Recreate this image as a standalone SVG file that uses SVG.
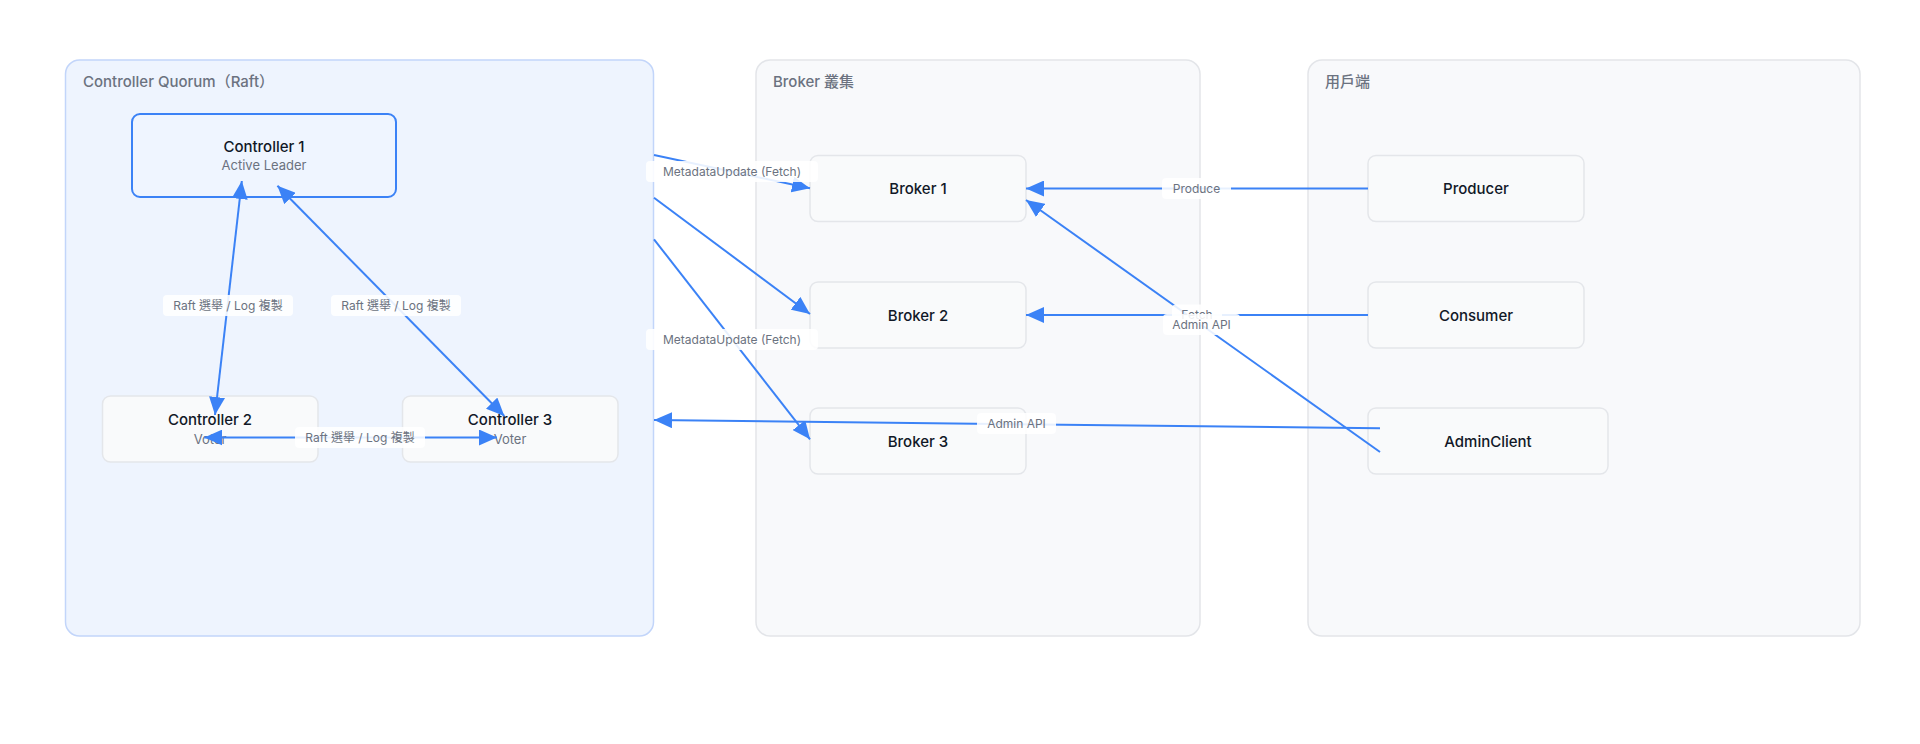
<svg xmlns="http://www.w3.org/2000/svg" width="1920" height="744" viewBox="0 0 1920 744">
  <defs>
    <style>
      text { font-family: Inter, "Noto Sans CJK TC", sans-serif; }
      .grp { stroke-width: 1.5; }
      .grp-blue { fill: #eef4fe; stroke: #c2d5fa; }
      .grp-gray { fill: #f8f9fb; stroke: #e3e5e9; }
      .grp-title { font-size: 15px; font-weight: 500; fill: #6b7280; }
      .node { fill: #f9fafb; stroke: #e4e6ea; stroke-width: 1.5; }
      .node-active { fill: #eff5ff; stroke: #3b82f6; stroke-width: 2; }
      .title { font-size: 15px; font-weight: 500; fill: #111827; text-anchor: middle; }
      .sub { font-size: 13px; fill: #6b7280; text-anchor: middle; }
      .edge { stroke: #3b82f6; stroke-width: 2; fill: none; }
      .lbl-bg { fill: #ffffff; fill-opacity: 0.88; }
      .lbl { font-size: 12px; fill: #6b7280; text-anchor: middle; }
    </style>
    <marker id="arr" viewBox="0 0 18 16" markerUnits="userSpaceOnUse" markerWidth="18" markerHeight="16" refX="18" refY="8" orient="auto-start-reverse">
      <path d="M0,0 L18,8 L0,16 z" fill="#3b82f6"/>
    </marker>
  </defs>
  <rect width="1920" height="744" fill="#ffffff"/>

  <!-- groups -->
  <g id="group-controller-quorum">
    <rect class="grp grp-blue" x="65.5" y="60" width="588" height="576" rx="14"/>
    <text class="grp-title" x="83" y="86.5">Controller Quorum（Raft）</text>
  </g>
  <g id="group-broker">
    <rect class="grp grp-gray" x="756" y="60" width="444" height="576" rx="14"/>
    <text class="grp-title" x="773" y="86.5">Broker 叢集</text>
  </g>
  <g id="group-clients">
    <rect class="grp grp-gray" x="1308" y="60" width="552" height="576" rx="14"/>
    <text class="grp-title" x="1325" y="86.5">用戶端</text>
  </g>

  <!-- nodes -->
  <g id="controller1">
    <rect class="node-active" x="132" y="114" width="264" height="83" rx="8"/>
    <text class="title" x="264" y="152">Controller 1</text>
    <text class="sub" x="264" y="170">Active Leader</text>
  </g>
  <g id="controller2">
    <rect class="node" x="102.5" y="396" width="215.5" height="66" rx="8"/>
    <text class="title" x="210" y="425">Controller 2</text>
    <text class="sub" x="210" y="444">Voter</text>
  </g>
  <g id="controller3">
    <rect class="node" x="402.5" y="396" width="215.5" height="66" rx="8"/>
    <text class="title" x="510" y="425">Controller 3</text>
    <text class="sub" x="510" y="444">Voter</text>
  </g>
  <g id="broker1">
    <rect class="node" x="810" y="155.5" width="216" height="66" rx="8"/>
    <text class="title" x="918" y="194">Broker 1</text>
  </g>
  <g id="broker2">
    <rect class="node" x="810" y="282" width="216" height="66" rx="8"/>
    <text class="title" x="918" y="320.5">Broker 2</text>
  </g>
  <g id="broker3">
    <rect class="node" x="810" y="408" width="216" height="66" rx="8"/>
    <text class="title" x="918" y="446.5">Broker 3</text>
  </g>
  <g id="producer">
    <rect class="node" x="1368" y="155.5" width="216" height="66" rx="8"/>
    <text class="title" x="1476" y="194">Producer</text>
  </g>
  <g id="consumer">
    <rect class="node" x="1368" y="282" width="216" height="66" rx="8"/>
    <text class="title" x="1476" y="320.5">Consumer</text>
  </g>
  <g id="adminclient">
    <rect class="node" x="1368" y="408" width="240" height="66" rx="8"/>
    <text class="title" x="1488" y="446.5">AdminClient</text>
  </g>

  <!-- connectors -->
  <g id="connectors">
    <line class="edge" x1="241.8" y1="181" x2="215" y2="415" marker-start="url(#arr)" marker-end="url(#arr)"/>
    <line class="edge" x1="277.4" y1="185.7" x2="504.3" y2="416" marker-start="url(#arr)" marker-end="url(#arr)"/>
    <line class="edge" x1="204.3" y1="437.5" x2="497" y2="437.5" marker-start="url(#arr)" marker-end="url(#arr)"/>
    <line class="edge" x1="654" y1="155" x2="810" y2="188.3" marker-end="url(#arr)"/>
    <line class="edge" x1="654" y1="197.7" x2="810" y2="314" marker-end="url(#arr)"/>
    <line class="edge" x1="654" y1="239.3" x2="810" y2="439.3" marker-end="url(#arr)"/>
    <line class="edge" x1="1368" y1="188.5" x2="1026" y2="188.5" marker-end="url(#arr)"/>
    <line class="edge" x1="1368" y1="315" x2="1026" y2="315" marker-end="url(#arr)"/>
    <line class="edge" x1="1380" y1="452" x2="1026" y2="200" marker-end="url(#arr)"/>
    <line class="edge" x1="1380" y1="428.3" x2="654" y2="420" marker-end="url(#arr)"/>

    <!-- labels -->
    <rect class="lbl-bg" x="163" y="295" width="130" height="21" rx="4"/>
    <text class="lbl" x="228" y="310">Raft 選舉 / Log 複製</text>
    <rect class="lbl-bg" x="331" y="295" width="130" height="21" rx="4"/>
    <text class="lbl" x="396" y="310">Raft 選舉 / Log 複製</text>
    <rect class="lbl-bg" x="295" y="427" width="130" height="21" rx="4"/>
    <text class="lbl" x="360" y="442">Raft 選舉 / Log 複製</text>
    <rect class="lbl-bg" x="646" y="161" width="172" height="21" rx="4"/>
    <text class="lbl" x="732" y="176">MetadataUpdate (Fetch)</text>
    <rect class="lbl-bg" x="646" y="329" width="172" height="21" rx="4"/>
    <text class="lbl" x="732" y="344">MetadataUpdate (Fetch)</text>
    <rect class="lbl-bg" x="1162" y="178" width="69" height="21" rx="4"/>
    <text class="lbl" x="1196.5" y="193">Produce</text>
    <rect class="lbl-bg" x="1172" y="304.5" width="50" height="21" rx="4"/>
    <text class="lbl" x="1197" y="319">Fetch</text>
    <rect class="lbl-bg" x="1163" y="314" width="77" height="21" rx="4"/>
    <text class="lbl" x="1201.5" y="329">Admin API</text>
    <rect class="lbl-bg" x="977" y="413" width="79" height="21" rx="4"/>
    <text class="lbl" x="1016.5" y="428">Admin API</text>
  </g>
</svg>
